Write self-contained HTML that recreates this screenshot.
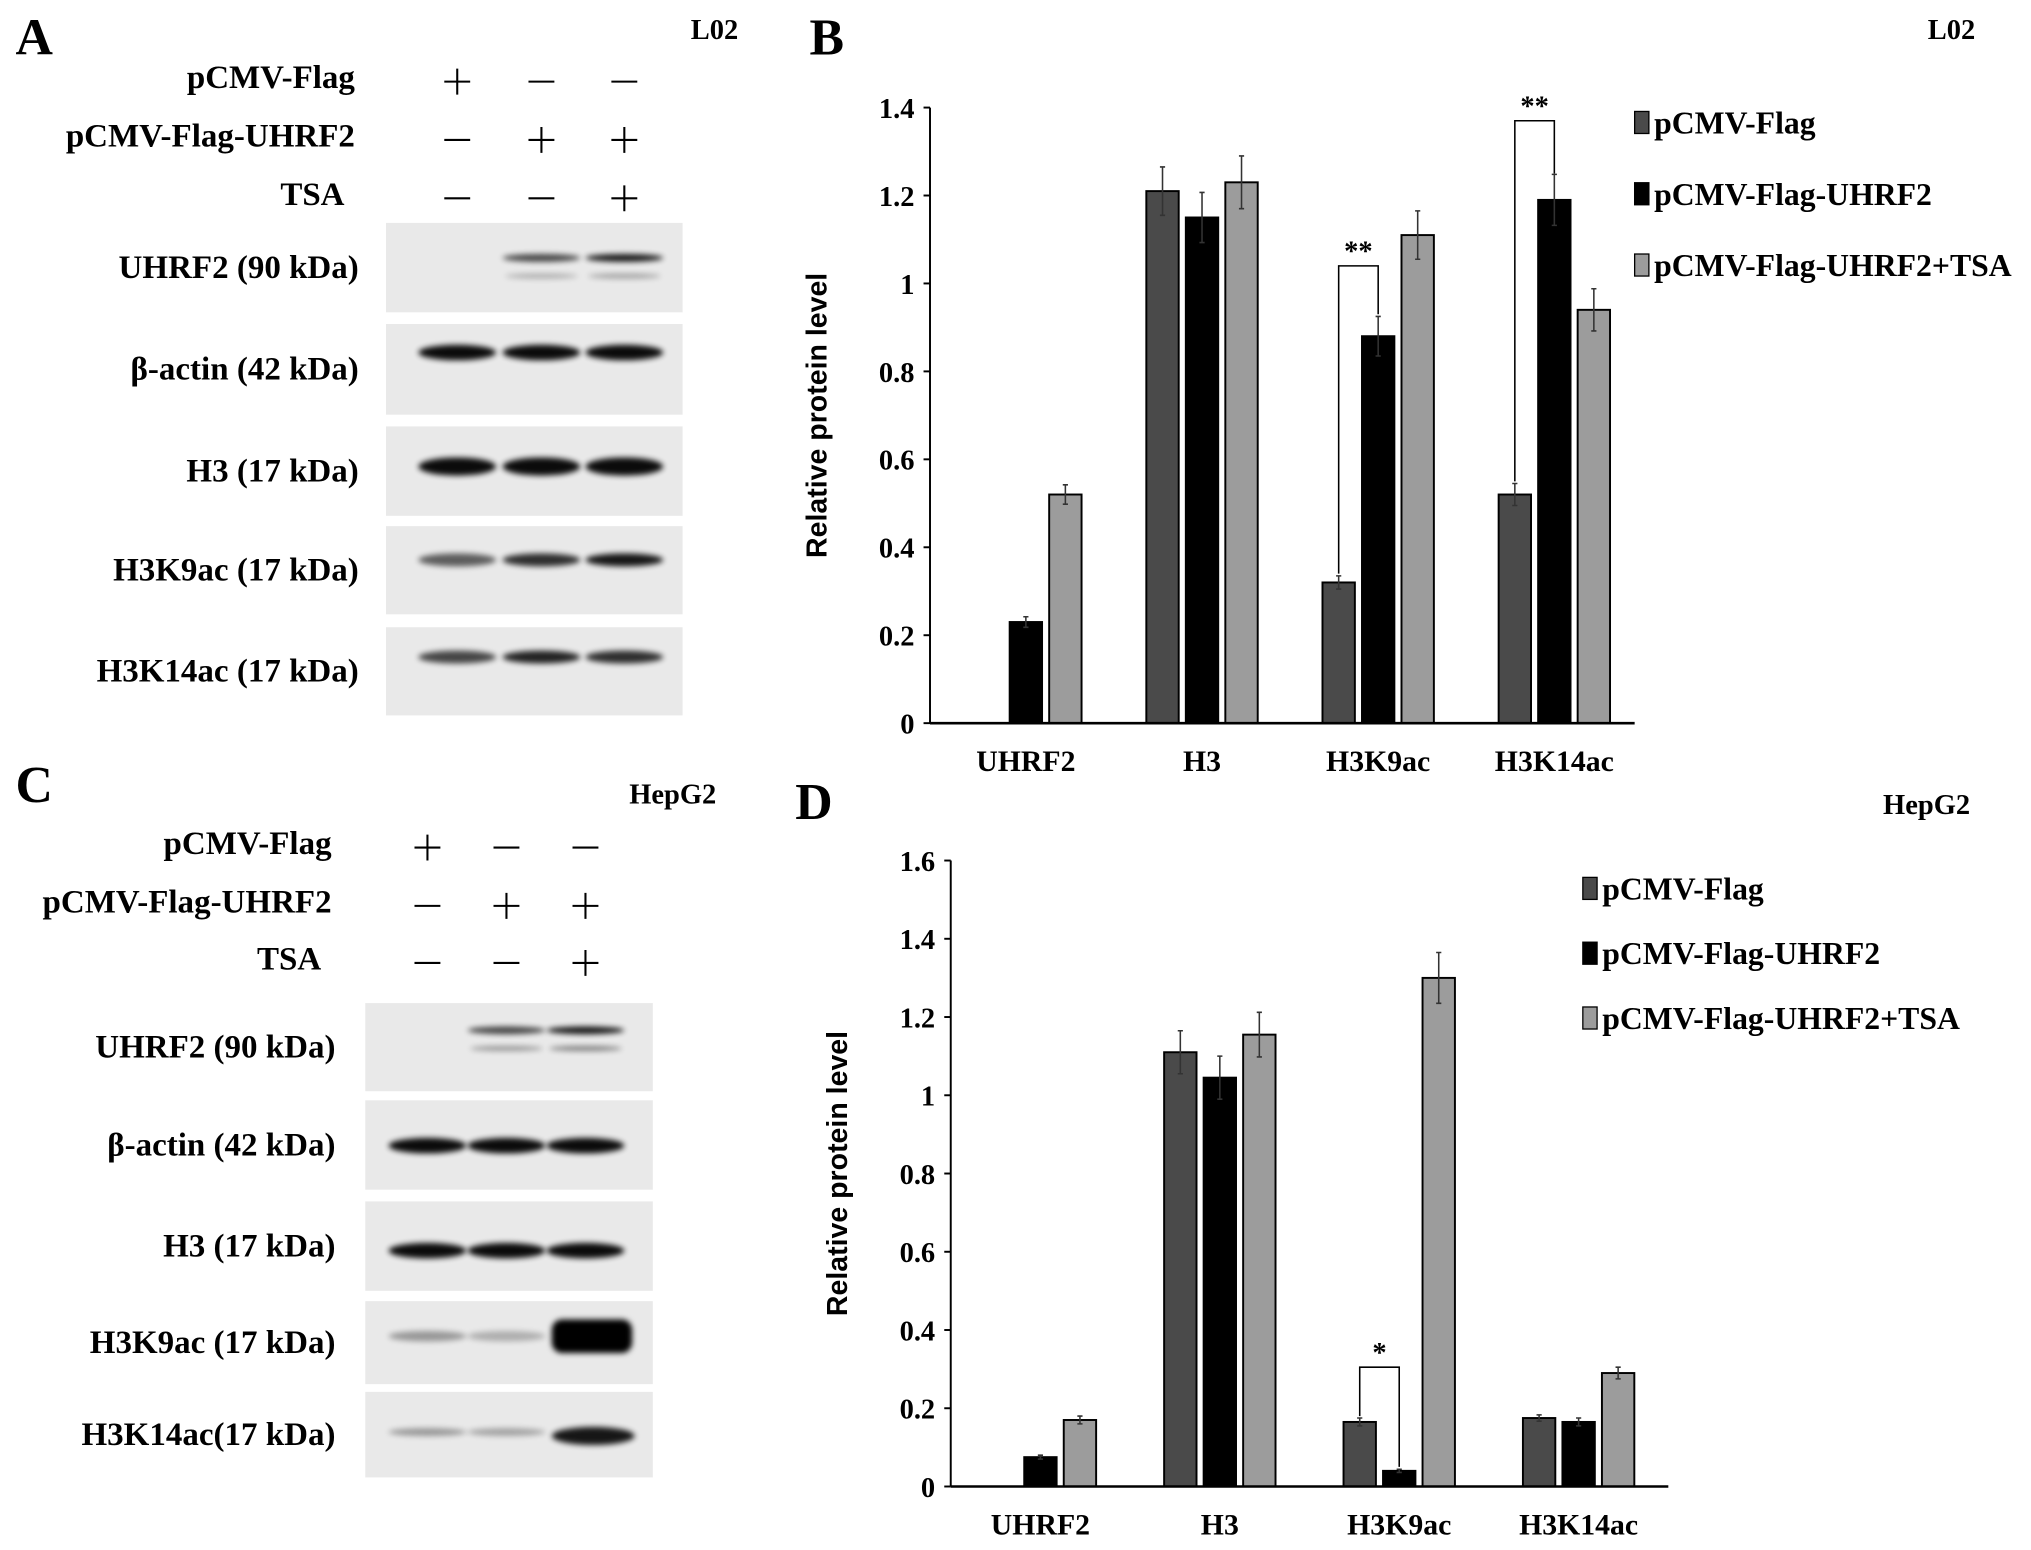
<!DOCTYPE html>
<html><head><meta charset="utf-8"><style>
html,body{margin:0;padding:0;background:#fff;}
svg{display:block;}
text{font-family:"Liberation Serif",serif;font-weight:bold;}
</style></head><body>
<svg id="fig" width="2031" height="1550" viewBox="0 0 1568 1196" preserveAspectRatio="none" xmlns="http://www.w3.org/2000/svg">
<defs>
<filter id="blur" x="-20%" y="-100%" width="140%" height="300%"><feGaussianBlur stdDeviation="2.2"/></filter>
</defs>
<g id="blots"></g>
<g id="chartB"></g>
<g id="chartD"></g>
</svg>
<script>
const categories = ["UHRF2","H3","H3K9ac","H3K14ac"];
const seriesNames = ["pCMV-Flag","pCMV-Flag-UHRF2","pCMV-Flag-UHRF2+TSA"];
const bFlag = [0, 1.21, 0.32, 0.52];
const bUhrf2 = [0.23, 1.15, 0.88, 1.19];
const bTsa = [0.52, 1.23, 1.11, 0.94];
const bFlagErr = [0, 0.055, 0.015, 0.025];
const bUhrf2Err = [0.012, 0.057, 0.045, 0.058];
const bTsaErr = [0.022, 0.06, 0.055, 0.048];
const bTicks = [0, 0.2, 0.4, 0.6, 0.8, 1, 1.2, 1.4];
const dFlag = [0, 1.11, 0.165, 0.175];
const dUhrf2 = [0.075, 1.045, 0.04, 0.165];
const dTsa = [0.17, 1.155, 1.3, 0.29];
const dFlagErr = [0, 0.055, 0.01, 0.008];
const dUhrf2Err = [0.005, 0.055, 0.004, 0.01];
const dTsaErr = [0.01, 0.057, 0.065, 0.015];
const dTicks = [0, 0.2, 0.4, 0.6, 0.8, 1, 1.2, 1.4, 1.6];

const NS = "http://www.w3.org/2000/svg";
function mk(parent, tag, attrs, txt){
  const e = document.createElementNS(NS, tag);
  for (const k in attrs) e.setAttribute(k, attrs[k]);
  if (txt !== undefined) e.textContent = txt;
  parent.appendChild(e);
  return e;
}
const colors = ["#4a4a4a","#000000","#9c9c9c"];

function drawChart(g, o){
  const yOf = v => o.y0 - (v / o.max) * (o.y0 - o.yTop);
  const cw = (o.x1 - o.x0) / categories.length;
  const cx = i => o.x0 + o.off + cw * (i + 0.5);
  const pitch = 30.5, bw = 25;
  let e = mk(g, "line", {x1:o.x0, y1:o.yTop, x2:o.x0, y2:o.y0, stroke:"#000", "stroke-width":1.5});
  
  
  o.ticks.forEach(t => {
    const y = yOf(t);
    const tl = mk(g, "line", {x1:o.x0-5, y1:y, x2:o.x0, y2:y, stroke:"#000", "stroke-width":1.5});
    
    
    const tx = mk(g, "text", {x:o.x0-12, y:y+8, "font-size":22, "text-anchor":"end"}, String(t));
    
    
  });
  const yt = mk(g, "text", {x:0, y:0, "font-size":22, "text-anchor":"middle", transform:`translate(${o.x0-80},${(o.yTop+o.y0)/2}) rotate(-90)`, style:"font-family:'Liberation Sans',sans-serif;font-weight:bold"}, "Relative protein level");
  
  
  const series = [o.s1, o.s2, o.s3], errs = [o.e1, o.e2, o.e3];
  const pos = [];
  categories.forEach((c, i) => {
    pos[i] = [];
    series.forEach((s, j) => {
      const v = s[i];
      const x = cx(i) + (j - 1) * pitch - bw / 2;
      pos[i][j] = x + bw / 2;
      if (v <= 0) return;
      const r = mk(g, "rect", {x:x, y:yOf(v), width:bw, height:o.y0 - yOf(v), fill:colors[j], stroke:"#000", "stroke-width":1.5});
      
      
      const er = errs[j][i];
      if (er > 0) {
        const eb = mk(g, "path", {d:`M${x+bw/2},${yOf(v+er)}V${yOf(v-er)}M${x+bw/2-2},${yOf(v+er)}h4M${x+bw/2-2},${yOf(v-er)}h4`, stroke:"#333", "stroke-width":1.2, fill:"none"});
        
        
      }
    });
    const cl = mk(g, "text", {x:cx(i), y:o.y0 + 37, "font-size":23, "text-anchor":"middle"}, c);
    
    
  });
  e = mk(g, "line", {x1:o.x0, y1:o.y0, x2:o.x1, y2:o.y0, stroke:"#000", "stroke-width":2});
  
  
  o.sig.forEach(s => {
    const xa = pos[s.cat][0], xb = pos[s.cat][1];
    const p = mk(g, "path", {d:`M${xa},${yOf(s.ya)}V${yOf(s.top)}H${xb}V${yOf(s.yb)}`, stroke:"#000", "stroke-width":1.2, fill:"none"});
    
    
    const t = mk(g, "text", {x:(xa+xb)/2, y:yOf(s.top)-4, "font-size":22, "text-anchor":"middle"}, s.label);
    
    
  });
  seriesNames.forEach((n, j) => {
    const ly = o.legY + j * o.legGap;
    const r = mk(g, "rect", {x:o.legX, y:ly - 8, width:11, height:17, fill:colors[j], stroke:"#000", "stroke-width":1});
    
    
    const t = mk(g, "text", {x:o.legX + 15, y:ly + 9, "font-size":24.5}, n);
    
    
  });
  const ttl = mk(g, "text", {x:o.letX, y:o.letY, "font-size":40}, o.letter);
  
  
  const cell = mk(g, "text", {x:o.cellX, y:o.cellY, "font-size":22, "text-anchor":"end"}, o.cell);
  
  
}

drawChart(document.getElementById("chartB"), {
  x0:718, x1:1262, off:6, yTop:83, y0:558, max:1.4, ticks:bTicks,
  s1:bFlag, s2:bUhrf2, s3:bTsa, e1:bFlagErr, e2:bUhrf2Err, e3:bTsaErr,
  sig:[{cat:2, ya:0.34, yb:0.93, top:1.04, label:"**"},{cat:3, ya:0.55, yb:1.25, top:1.37, label:"**"}],
  legX:1262, legY:94, legGap:55, letter:"B", letX:625, letY:42, cell:"L02", cellX:1525, cellY:30
});
drawChart(document.getElementById("chartD"), {
  x0:734, x1:1288, off:0, yTop:664, y0:1147, max:1.6, ticks:dTicks,
  s1:dFlag, s2:dUhrf2, s3:dTsa, e1:dFlagErr, e2:dUhrf2Err, e3:dTsaErr,
  sig:[{cat:2, ya:0.18, yb:0.05, top:0.305, label:"*"}],
  legX:1222, legY:685, legGap:50, letter:"D", letX:614, letY:632, cell:"HepG2", cellX:1521, cellY:628
});

const blots = document.getElementById("blots");
function panel(o){
  const lt = mk(blots, "text", {x:o.letX, y:o.letY, "font-size":40}, o.letter);
  
  
  const cl = mk(blots, "text", {x:o.cellX, y:o.cellY, "font-size":22, "text-anchor":"end"}, o.cell);
  
  
  o.cond.forEach((c, i) => {
    const t = mk(blots, "text", {x:o.labelX - (c.name === "TSA" ? 8 : 0), y:o.condY[i] + 8, "font-size":25.5, "text-anchor":"end"}, c.name);
    
    
    c.signs.forEach((s, k) => {
      const x = o.lanes[k], y = o.condY[i] + 3;
      const d = s ? `M${x-10},${y}h20M${x},${y-10}v20` : `M${x-10},${y}h20`;
      const p = mk(blots, "path", {d:d, stroke:"#000", "stroke-width":1.6, fill:"none"});
      
      
    });
  });
  o.rows.forEach(r => {
    const g = mk(blots, "g", {});
    
    
    mk(g, "rect", {x:o.bx0, y:r.y0, width:o.bx1-o.bx0, height:r.y1-r.y0, fill:"#e9e9e9"});
    const mid = r.band;
    r.ints.forEach((a, k) => {
      if (a <= 0) return;
      mk(g, "ellipse", {cx:o.lanes[k], cy:mid, rx:30, ry:r.th, fill:"#000", opacity:a, filter:"url(#blur)"});
    });
    if (r.faint) r.faint.forEach((a, k) => {
      if (a <= 0) return;
      mk(g, "ellipse", {cx:o.lanes[k], cy:mid + 14, rx:28, ry:2, fill:"#000", opacity:a, filter:"url(#blur)"});
    });
    const t = mk(blots, "text", {x:o.labelX + 3, y:(r.y0 + r.y1) / 2 + 8, "font-size":25.5, "text-anchor":"end"}, r.name);
    
    
  });
}
panel({
  letter:"A", letX:12, letY:42, cell:"L02", cellX:570, cellY:30, labelX:274,
  lanes:[353, 418, 482], condY:[60, 105, 150], bx0:298, bx1:527,
  cond:[{name:"pCMV-Flag", signs:[1,0,0]},{name:"pCMV-Flag-UHRF2", signs:[0,1,1]},{name:"TSA", signs:[0,0,1]}],
  rows:[
    {name:"UHRF2 (90 kDa)", y0:172, y1:241, band:199, th:3, ints:[0,0.7,0.9], faint:[0,0.25,0.3]},
    {name:"β-actin (42 kDa)", y0:250, y1:320, band:272, th:6, ints:[0.95,0.95,0.95]},
    {name:"H3 (17 kDa)", y0:329, y1:398, band:360, th:7, ints:[0.95,0.95,0.95]},
    {name:"H3K9ac (17 kDa)", y0:406, y1:474, band:432, th:5, ints:[0.6,0.8,0.9]},
    {name:"H3K14ac (17 kDa)", y0:484, y1:552, band:507, th:5, ints:[0.7,0.85,0.8]}
  ]
});
panel({
  letter:"C", letX:12, letY:619, cell:"HepG2", cellX:553, cellY:620, labelX:256,
  lanes:[330, 391, 452], condY:[651, 696, 740], bx0:282, bx1:504,
  cond:[{name:"pCMV-Flag", signs:[1,0,0]},{name:"pCMV-Flag-UHRF2", signs:[0,1,1]},{name:"TSA", signs:[0,0,1]}],
  rows:[
    {name:"UHRF2 (90 kDa)", y0:774, y1:842, band:795, th:3, ints:[0,0.7,0.9], faint:[0,0.35,0.45]},
    {name:"β-actin (42 kDa)", y0:849, y1:918, band:884, th:6, ints:[0.95,0.95,0.95]},
    {name:"H3 (17 kDa)", y0:927, y1:996, band:965, th:6, ints:[0.95,0.95,0.95]},
    {name:"H3K9ac (17 kDa)", y0:1004, y1:1068, band:1031, th:4, ints:[0.35,0.25,0]},
    {name:"H3K14ac(17 kDa)", y0:1074, y1:1140, band:1105, th:3, ints:[0.35,0.3,0]}
  ]
});
let big = mk(blots, "rect", {x:426, y:1018, width:62, height:26, rx:8, fill:"#000", filter:"url(#blur)"});


big = mk(blots, "ellipse", {cx:458, cy:1108, rx:32, ry:7, fill:"#000", opacity:0.9, filter:"url(#blur)"});


</script>
</body></html>
